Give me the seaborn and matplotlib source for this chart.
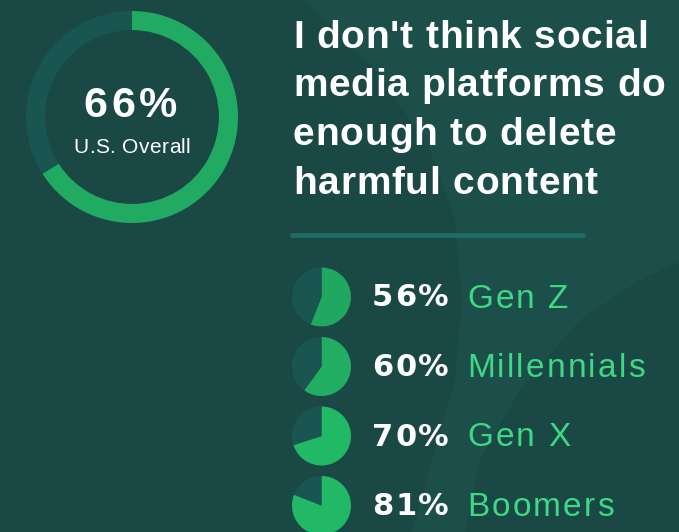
import matplotlib
matplotlib.use("Agg")
import matplotlib.pyplot as plt
import seaborn as sns
from matplotlib import font_manager
from matplotlib.ft2font import FT2Font
from matplotlib.patches import Polygon

sns.set_theme(style="white")
plt.rcParams['font.family'] = ['Liberation Sans', 'DejaVu Sans']

# data
overall = 66
overall_label = "U.S. Overall"
generations = ["Gen Z", "Millennials", "Gen X", "Boomers"]
shares = [56, 60, 70, 81]
title_lines = ["I don't think social", "media platforms do",
               "enough to delete", "harmful content"]

BG = "#1a4845"
BG_LIGHT = "#1c4e4a"
RING_BG = "#1a5651"
GREEN = "#21ab62"
PIE_GREENS = ["#20a861", "#21ad62", "#22b966", "#22b966"]
LABEL_GREEN = "#3ed985"

W, H = 679, 532
fig = plt.figure(figsize=(W / 100, H / 100), dpi=100, facecolor=BG)

# full-figure canvas in pixel coordinates
bg = fig.add_axes([0, 0, 1, 1])
bg.set_xlim(0, W)
bg.set_ylim(H, 0)
bg.axis("off")
bg.set_facecolor(BG)
# faint lighter background band
band = [(305, 0), (380, 75), (430, 150), (455, 220), (462, 300), (455, 380),
        (435, 450), (412, 532), (465, 532), (480, 460), (520, 390),
        (580, 320), (640, 280), (679, 262), (679, 0)]
bg.add_patch(Polygon(band, closed=True, color=BG_LIGHT, lw=0, zorder=0))


def tracked(x, y, s, size, color, track=0.0, weight="normal", ha="left",
            family="Liberation Sans"):
    # draw text char by char with extra letter spacing (px)
    path = font_manager.findfont(font_manager.FontProperties(family=family, weight=weight))
    f = FT2Font(path)
    f.set_size(size, 100)
    adv = [f.load_char(ord(c)).linearHoriAdvance / 65536 for c in s]
    total = sum(adv) + track * (len(s) - 1)
    if ha == "center":
        x -= total / 2
    for c, a in zip(s, adv):
        bg.text(x, y, c, color=color, fontsize=size, fontweight=weight,
                family=family, ha="left", va="baseline")
        x += a + track


def pix_axes(cx, cy, r):
    return fig.add_axes([(cx - r) / W, (H - cy - r) / H, 2 * r / W, 2 * r / H])


# big donut
ax = pix_axes(132, 117, 106)
ax.pie([overall, 100 - overall], colors=[GREEN, RING_BG], startangle=90,
       counterclock=False, radius=1, wedgeprops=dict(width=0.18, lw=0))
ax.set_xlim(-1, 1)
ax.set_ylim(-1, 1)
ax.set_aspect("equal")
tracked(130, 117, f"{overall}%", 31, "white", track=4, weight="bold", ha="center")
tracked(132, 153, overall_label, 15, "white", track=0.4, ha="center")

# title
for i, line in enumerate(title_lines):
    tracked(293, 48 + i * 48.5, line, 28, "white", track=0.8, weight="bold")

bg.plot([292, 583], [235, 235], color="#1f6b66", lw=3.5, solid_capstyle="round")

# small pies per generation
for i, (gen, val) in enumerate(zip(generations, shares)):
    cy = 297 + i * 69.5
    pax = pix_axes(321.5, cy, 29.5)
    pax.pie([val, 100 - val], colors=[PIE_GREENS[i], RING_BG], startangle=90,
            counterclock=False, radius=1, wedgeprops=dict(lw=0))
    pax.set_xlim(-1, 1)
    pax.set_ylim(-1, 1)
    pax.set_aspect("equal")
    tracked(372, cy + 9.5, f"{val}%", 22, "white", track=2, weight="bold",
            family="DejaVu Sans")
    tracked(467, cy + 10.5, gen, 24, LABEL_GREEN, track=2.2)

fig.savefig("out.png", dpi=100, facecolor=BG)
